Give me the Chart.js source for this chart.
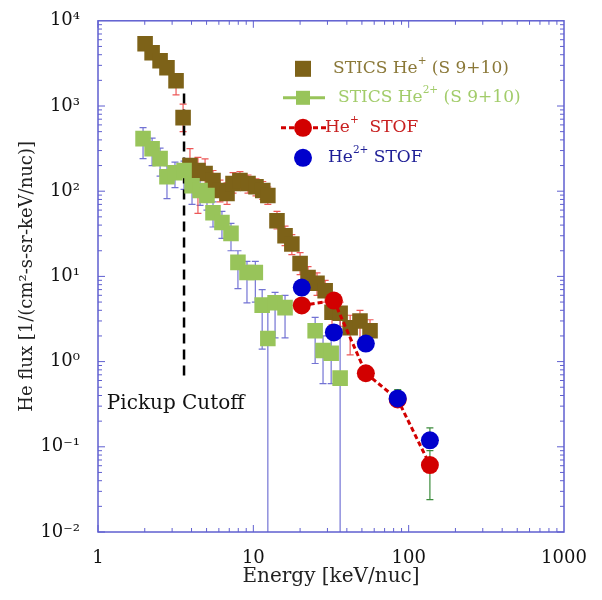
<!DOCTYPE html>
<html>
<head>
<meta charset="utf-8">
<script src="https://cdn.jsdelivr.net/npm/chart.js@4.4.0/dist/chart.umd.min.js"></script>
<style>
  html, body { margin: 0; padding: 0; background: #fff; }
</style>
</head>
<body>
<canvas id="fluxChart" width="602" height="600"></canvas>
<script>
// STICS He+ (S 9+10)
const heOneEnergy = [2.01, 2.23, 2.51, 2.78, 3.18, 3.53, 3.91, 4.40, 4.89, 5.50, 6.10, 6.77, 7.40, 8.20, 9.24,
  10.4, 11.5, 12.4, 14.2, 16.0, 17.7, 20.0, 22.5, 25.7, 29.0, 32.1, 36.2, 42.0, 48.6, 56.4];
const heOneFlux = [5370, 4215, 3400, 2810, 1980, 730, 200, 175, 161, 133, 102, 94, 123, 133, 123,
  113, 102, 89, 45, 30, 24, 14.2, 9.7, 8.3, 6.8, 3.8, 3.7, 2.5, 3.0, 2.3];
const heOneLo = [4700, 3700, 2950, 2400, 1350, 500, 150, 55, 115, 95, 75, 70, 95, 105, 95,
  88, 80, 70, 36, 23, 18, 10.5, 7, 6, 5, 2.7, 2.6, 1.2, 1.7, 1.5];
const heOneHi = [6200, 4800, 3900, 3250, 2300, 1050, 316, 250, 240, 175, 135, 125, 165, 170, 155,
  140, 130, 112, 58, 39, 31, 19, 13, 11, 9, 5.2, 5, 3.5, 4, 3.1];

// STICS He2+ (S 9+10)
const heTwoEnergy = [1.95, 2.23, 2.51, 2.78, 3.13, 3.58, 4.03, 4.54, 5.03, 5.50, 6.28, 7.18, 7.96, 9.10, 10.3,
  11.4, 12.4, 13.8, 16.0, 25.0, 28.1, 31.7, 36.2];
const heTwoFlux = [414, 315, 241, 148, 165, 175, 116, 102, 89, 56, 43, 32, 14.6, 11.1, 11.1,
  4.6, 1.87, 4.9, 4.3, 2.3, 1.35, 1.25, 0.64];
const heTwoLo = [241, 200, 150, 82, 110, 105, 70, 68, 60, 38, 28, 20, 7.2, 4.9, 5,
  1.4, 0.001, 1.9, 1.9, 0.95, 0.55, 0.55, 0.001];
const heTwoHi = [557, 420, 320, 200, 220, 225, 160, 135, 120, 75, 58, 42, 20, 15, 15,
  7, 4.5, 6.5, 6, 3.3, 2, 2, 3.2];

// STOF
const stofEnergy = [20.5, 33, 53, 85, 137];
const stofOneFlux = [4.56, 5.2, 0.73, 0.36, 0.061];
const stofOneLo = [3.9, 4.4, 0.6, 0.3, 0.024];
const stofOneHi = [5.3, 6.1, 0.88, 0.44, 0.09];
const stofTwoFlux = [7.4, 2.2, 1.63, 0.37, 0.119];
const stofTwoLo = [6.5, 1.9, 1.4, 0.3, 0.1];
const stofTwoHi = [8.5, 2.6, 1.9, 0.47, 0.167];

// pickup cutoff line
const cutoffEnergy = [3.58, 3.58];
const cutoffFlux = [1400, 0.6];

const energyTicks = [1, 10, 100, 1000];
const fluxTicks = [0.01, 0.1, 1, 10, 100, 1000, 10000];
const fluxTickLabels = ['10⁻²', '10⁻¹', '10⁰', '10¹', '10²', '10³', '10⁴'];

const SERIF = '"DejaVu Serif", "Liberation Serif", serif';
const BROWN = '#7d6218';
const GREEN = '#98c45a';
const RED = '#d20000';
const BLUE = '#0000cc';

const toPoints = (xs, ys) => xs.map((v, i) => ({ x: v, y: ys[i] }));

// text with superscript pieces: [['He', false], ['+', true]]
function drawRich(ctx, parts, x, y, size, color) {
  ctx.fillStyle = color;
  ctx.textBaseline = 'middle';
  ctx.textAlign = 'left';
  parts.forEach(([t, sup]) => {
    ctx.font = (sup ? size * 0.62 : size) + 'px ' + SERIF;
    ctx.fillText(t, x, sup ? y - size * 0.42 : y);
    x += ctx.measureText(t).width;
  });
}

const errorBars = {
  id: 'errorBars',
  beforeDatasetsDraw(chart) {
    const { ctx, chartArea: a, scales: { x, y } } = chart;
    ctx.save();
    ctx.beginPath();
    ctx.rect(a.left, a.top, a.width, a.height);
    ctx.clip();
    chart.data.datasets.forEach(ds => {
      if (!ds.errLo) return;
      ctx.strokeStyle = ds.errColor;
      ctx.lineWidth = 1.2;
      ds.data.forEach((p, i) => {
        const px = x.getPixelForValue(p.x);
        const lo = y.getPixelForValue(ds.errLo[i]);
        const hi = y.getPixelForValue(ds.errHi[i]);
        ctx.beginPath();
        ctx.moveTo(px, lo); ctx.lineTo(px, hi);
        ctx.moveTo(px - 3.5, hi); ctx.lineTo(px + 3.5, hi);
        ctx.moveTo(px - 3.5, lo); ctx.lineTo(px + 3.5, lo);
        ctx.stroke();
      });
    });
    ctx.restore();
  }
};

const frame = {
  id: 'frame',
  afterDatasetsDraw(chart) {
    const { ctx, chartArea: a, scales: { x, y } } = chart;
    ctx.save();
    ctx.strokeStyle = '#5f5fd0';
    ctx.lineWidth = 1.5;
    ctx.strokeRect(a.left, a.top, a.width, a.height);
    ctx.lineWidth = 1;
    ctx.beginPath();
    // inward ticks on all four sides
    for (let d = 1; d < 1000; d *= 10) {
      for (let m = 1; m < 10; m++) {
        const px = x.getPixelForValue(d * m);
        const len = m === 1 ? 7 : 4;
        ctx.moveTo(px, a.bottom); ctx.lineTo(px, a.bottom - len);
        ctx.moveTo(px, a.top); ctx.lineTo(px, a.top + len);
      }
    }
    for (let d = 0.01; d < 9999; d *= 10) {
      for (let m = 1; m < 10; m++) {
        const py = y.getPixelForValue(d * m);
        const len = m === 1 ? 7 : 4;
        ctx.moveTo(a.left, py); ctx.lineTo(a.left + len, py);
        ctx.moveTo(a.right, py); ctx.lineTo(a.right - len, py);
      }
    }
    ctx.stroke();
    ctx.restore();
  }
};

const notes = {
  id: 'notes',
  afterDraw(chart) {
    const { ctx, chartArea: a, scales: { x, y } } = chart;
    ctx.save();
    // pickup cutoff label
    ctx.fillStyle = '#111';
    ctx.font = '20px ' + SERIF;
    ctx.textBaseline = 'middle';
    ctx.textAlign = 'left';
    ctx.fillText('Pickup Cutoff', x.getPixelForValue(1.14), y.getPixelForValue(0.32));

    // legend
    const mx = a.left + 205;
    const tx = a.left + 235;
    const rows = [a.top + 48, a.top + 77, a.top + 107, a.top + 137];
    const size = 17;

    ctx.fillStyle = BROWN;
    ctx.fillRect(mx - 8, rows[0] - 8, 16, 16);
    drawRich(ctx, [['STICS He', false], ['+', true], [' (S 9+10)', false]], tx, rows[0], size, '#8a7838');

    ctx.strokeStyle = GREEN;
    ctx.lineWidth = 3;
    ctx.beginPath(); ctx.moveTo(mx - 20, rows[1]); ctx.lineTo(mx + 22, rows[1]); ctx.stroke();
    ctx.fillStyle = GREEN;
    ctx.fillRect(mx - 7, rows[1] - 7, 14, 14);
    drawRich(ctx, [['STICS He', false], ['2+', true], [' (S 9+10)', false]], tx + 5, rows[1], size, '#a2cc6a');

    ctx.strokeStyle = RED;
    ctx.setLineDash([5, 3]);
    ctx.beginPath(); ctx.moveTo(mx - 22, rows[2]); ctx.lineTo(mx + 24, rows[2]); ctx.stroke();
    ctx.setLineDash([]);
    ctx.fillStyle = RED;
    ctx.beginPath(); ctx.arc(mx, rows[2], 9, 0, Math.PI * 2); ctx.fill();
    drawRich(ctx, [['He', false], ['+', true], ['  STOF', false]], tx - 8, rows[2], size, '#c82020');

    ctx.fillStyle = BLUE;
    ctx.beginPath(); ctx.arc(mx, rows[3], 9, 0, Math.PI * 2); ctx.fill();
    drawRich(ctx, [['He', false], ['2+', true], [' STOF', false]], tx - 5, rows[3], size, '#1e1e96');
    ctx.restore();
  }
};

const ctx = document.getElementById('fluxChart').getContext('2d');

const chart = new Chart(ctx, {
  type: 'scatter',
  data: {
    datasets: [
      {
        label: 'He2+ STOF',
        data: toPoints(stofEnergy, stofTwoFlux),
        errLo: stofTwoLo, errHi: stofTwoHi, errColor: '#3c8c3c',
        backgroundColor: BLUE, borderWidth: 0, pointRadius: 9, order: 1
      },
      {
        label: 'He+ STOF',
        data: toPoints(stofEnergy, stofOneFlux),
        errLo: stofOneLo, errHi: stofOneHi, errColor: '#3c8c3c',
        showLine: true, borderColor: RED, borderWidth: 3, borderDash: [5, 3],
        backgroundColor: RED, pointBorderWidth: 0, pointRadius: 9, order: 2
      },
      {
        label: 'STICS He2+ (S 9+10)',
        data: toPoints(heTwoEnergy, heTwoFlux),
        errLo: heTwoLo, errHi: heTwoHi, errColor: 'rgba(90,90,205,0.85)',
        backgroundColor: GREEN, borderWidth: 0, pointStyle: 'rect', pointRadius: 11, order: 3
      },
      {
        label: 'STICS He+ (S 9+10)',
        data: toPoints(heOneEnergy, heOneFlux),
        errLo: heOneLo, errHi: heOneHi, errColor: 'rgba(235,70,70,0.9)',
        backgroundColor: BROWN, borderWidth: 0, pointStyle: 'rect', pointRadius: 11, order: 4
      },
      {
        label: 'Pickup Cutoff',
        data: toPoints(cutoffEnergy, cutoffFlux),
        showLine: true, borderColor: '#000', borderWidth: 2.5, borderDash: [10, 6],
        pointRadius: 0, order: 5
      }
    ]
  },
  options: {
    responsive: false,
    animation: false,
    layout: { padding: { top: 20, right: 38, left: 0, bottom: 0 } },
    plugins: { legend: { display: false }, tooltip: { enabled: false } },
    scales: {
      x: {
        type: 'logarithmic', min: 1, max: 1000,
        grid: { display: false }, border: { display: false },
        afterBuildTicks: s => { s.ticks = energyTicks.map(v => ({ value: v })); },
        afterFit: s => { s.height = 68; },
        ticks: {
          font: { family: SERIF, size: 18 }, color: '#111', padding: 8, maxRotation: 0,
          callback: v => String(v)
        },
        title: {
          display: true, text: 'Energy [keV/nuc]', color: '#222',
          font: { family: SERIF, size: 20 }, padding: { top: 0, bottom: 11 }
        }
      },
      y: {
        type: 'logarithmic', min: 0.01, max: 10000,
        grid: { display: false }, border: { display: false },
        afterBuildTicks: s => { s.ticks = fluxTicks.map(v => ({ value: v })); },
        afterFit: s => { s.width = 98; },
        ticks: {
          font: { family: SERIF, size: 18 }, color: '#111', padding: 10,
          callback: v => fluxTickLabels[fluxTicks.indexOf(v)]
        },
        title: {
          display: true, text: 'He flux [1/(cm²-s-sr-keV/nuc)]', color: '#222',
          font: { family: SERIF, size: 18 }, padding: { top: 17, bottom: 0 }
        }
      }
    }
  },
  plugins: [errorBars, frame, notes]
});
</script>
</body>
</html>
